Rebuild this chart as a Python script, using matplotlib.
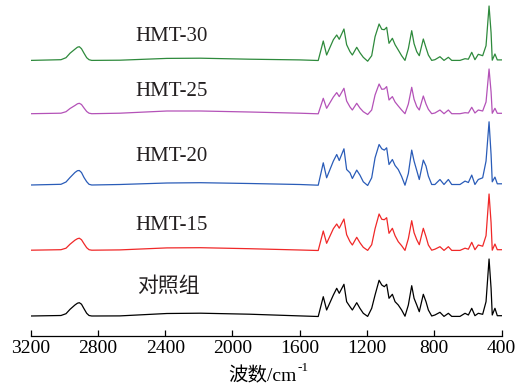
import matplotlib
matplotlib.use("Agg")
import matplotlib.pyplot as plt

# --------------------------------------------------
# DATOS LEIDOS DEL ESPECTRO (intensidad sobre la linea base)
# --------------------------------------------------
wavenumber = [3200, 3020, 2990, 2966, 2937, 2922, 2911, 2898, 2883, 2867, 2853, 2837,
              2670, 2390, 2190, 1900, 1600, 1490, 1460, 1440, 1400, 1380, 1365, 1337,
              1321, 1301, 1287, 1261, 1242, 1222, 1196, 1172, 1152, 1128, 1112, 1097,
              1083, 1069, 1049, 1033, 1014, 994, 974, 954, 934, 920, 904, 889, 865,
              849, 835, 815, 796, 766, 742, 716, 696, 647, 617, 597, 577, 558, 538,
              512, 492, 474, 462, 455, 439, 425, 409, 400]

control = [0.7, 1.2, 3, 7.4, 11.7, 13.5, 14, 12.5, 8, 3.4, 1.2, 0.7,
           0.8, 3.2, 3.5, 2.5, 0.8, 0.2, 20, 6.7, 21.7, 28.4, 23.4, 32.4,
           15, 10, 6.7, 14, 8.4, 3.4, 0.3, 8.4, 21.7, 36.4, 31.7, 30,
           32.4, 18.4, 22.4, 15, 11.7, 6.7, 0.5, 11.7, 31, 18.4, 11.7, 5, 22.4,
           15, 6.7, 0.7, 1.7, 4.4, 0.3, 3.4, 0.3, 0.3, 3.4, 1.7, 8.4, 1, 3.4,
           2.4, 15, 57.7, 28.4, 1.7, 8.4, 1, 1, 1]

hmt15 = [0.5, 1, 2.5, 6.5, 10.5, 12, 12.5, 11, 7, 3, 1, 0.5,
         0.8, 2.8, 3, 2, 0.7, 0.2, 19.7, 7.4, 22, 26.7, 22.5, 31.7,
         16, 9, 5.7, 13.4, 8, 3.4, 0.3, 6, 22, 36.7, 31.4, 31,
         33, 17.4, 22.4, 15, 9, 5, 0.3, 12, 30, 18, 11, 6, 22.4,
         14, 5.7, 0.5, 1.5, 4, 0.3, 4, 0.3, 0.3, 2.5, 1.5, 8.4, 1, 5.7,
         4.5, 15, 56.7, 28, 0.5, 6.7, 1, 1, 1]

hmt20 = [0.5, 1.2, 3.5, 8, 13, 14.8, 15, 13, 8, 3.8, 1.2, 0.5,
         1, 2.5, 2.8, 2, 1, 0.3, 22.7, 7.7, 24.4, 31, 25, 36.7,
         16, 12.7, 7, 15.4, 10.4, 3.7, 0, 7.7, 27.7, 41, 36.7, 35.4,
         37.7, 21, 26, 20, 16, 9, 0.3, 12, 35.4, 24.4, 15, 6, 25.4,
         19.4, 9.4, 1, 1, 6, 1, 6, 1, 1, 4.4, 3, 10.4, 1, 6,
         7.7, 24.4, 63.7, 31, 3.7, 8.4, 1.7, 1.7, 1.7]

hmt25 = [0.3, 0.8, 2.3, 5.5, 8.5, 10.2, 10.7, 9.5, 6, 2.5, 0.8, 0.3,
         0.8, 3, 3, 2, 0.8, 0.2, 15.7, 5.7, 17, 21.4, 17.4, 25.7,
         13, 7, 4, 10.7, 6, 2.3, -0.5, 4, 19, 30, 24.7, 25,
         27.4, 14, 17.4, 12, 8, 4, 0.3, 10, 26.7, 14.7, 7.4, 4, 18,
         10, 4.7, 0.3, 1, 4, 0.3, 4, 0.3, 0.3, 1.3, 1, 6.7, 1, 4,
         3, 12, 45, 22, 0.7, 5.7, 0.7, 0.7, 0.7]

hmt30 = [0.3, 1, 3, 7.5, 11.5, 13.5, 14, 12, 7.5, 3, 1, 0.3,
         0.5, 2.3, 2.5, 1.5, 0.8, 0.2, 19.7, 5.7, 21, 25.7, 21.4, 31.7,
         16, 9, 5.7, 13.4, 8, 3.4, -0.5, 5, 24, 36.7, 31.4, 31,
         33.4, 17.4, 22.4, 16, 10.7, 5, 0.3, 12, 30, 17, 9, 5, 21.7,
         13, 5.7, 0.3, 1, 4, 0.3, 3.4, 0.3, 0.3, 2, 1.5, 8.4, 1, 6.4,
         5, 15, 54.7, 28, 0.5, 6.7, 0.8, 0.8, 0.8]

labels = ["对照组", "HMT-15", "HMT-20", "HMT-25", "HMT-30"]
series = [control, hmt15, hmt20, hmt25, hmt30]
offsets = [19.3, 85.3, 150.5, 222, 275.3]
label_x = [2380, 2360, 2360, 2360, 2360]
label_y = [49, 111, 179.3, 244.3, 299.3]
colors = ["#000000", "#f02828", "#2a5cb8", "#b452b8", "#2e8a3c"]
xticks = [3200, 2800, 2400, 2000, 1600, 1200, 800, 400]

for s in series:
    assert len(s) == len(wavenumber)

# --------------------------------------------------
# CONFIGURACION DE FUENTES
# --------------------------------------------------
plt.rcParams['font.family'] = ['Liberation Serif', 'Noto Sans CJK SC']

W, H = 532, 386
fig = plt.figure(figsize=(W / 100, H / 100), dpi=100)
ax = fig.add_axes([30.7 / W, 50 / H, 470.8 / W, 336 / H])

# --------------------------------------------------
# CURVAS DESPLAZADAS VERTICALMENTE
# --------------------------------------------------
for s, off, c, lab, lx, ly in zip(series, offsets, colors, labels, label_x, label_y):
    ax.plot(wavenumber, [v + off for v in s], color=c, lw=0.9)
    ax.text(lx, ly, lab, fontsize=15, ha='center', va='center', color='#231f20')

ax.set_xlim(3200, 400)
ax.set_ylim(0, 336)
ax.set_xticks(xticks)
ax.set_yticks([])
for side in ['left', 'right', 'top']:
    ax.spines[side].set_visible(False)
ax.spines['bottom'].set_linewidth(0.9)
ax.tick_params(axis='x', direction='in', length=4.5, width=0.9, labelsize=14, pad=3)

# --------------------------------------------------
# ETIQUETA DEL EJE X (con superindice -1)
# --------------------------------------------------
xlab = fig.text(262 / W, 1 - 376 / H, "波数/cm", ha='center', va='center', fontsize=14)
fig.canvas.draw()
bb = xlab.get_window_extent()
fig.text((bb.x1 + 1) / W, 1 - 371 / H, "-1", ha='left', va='baseline', fontsize=9.5)

fig.savefig("out.png", dpi=100)
